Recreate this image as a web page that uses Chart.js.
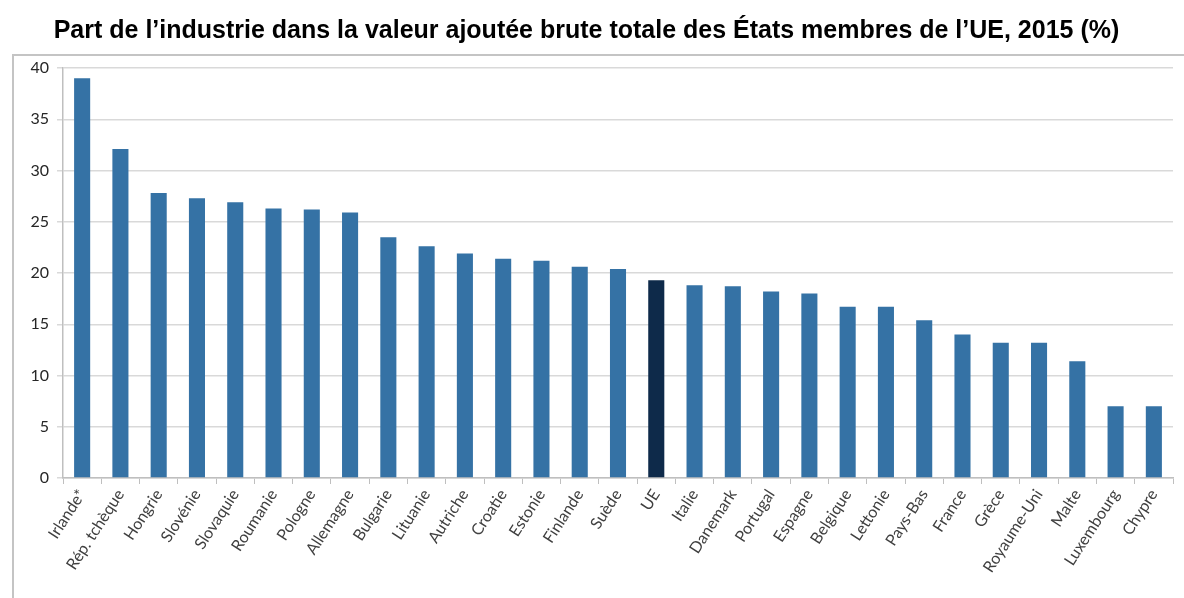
<!DOCTYPE html>
<html>
<head>
<meta charset="utf-8">
<script src="https://cdn.jsdelivr.net/npm/chart.js@4/dist/chart.umd.min.js"></script>
<style>
html,body{margin:0;padding:0;background:#fff;}
#wrap{width:1184px;height:598px;position:relative;}
</style>
</head>
<body>
<div id="wrap"><canvas id="c" width="1184" height="598"></canvas></div>
<script>
const categories = ["Irlande*","Rép. tchèque","Hongrie","Slovénie","Slovaquie","Roumanie","Pologne","Allemagne","Bulgarie","Lituanie","Autriche","Croatie","Estonie","Finlande","Suède","UE","Italie","Danemark","Portugal","Espagne","Belgique","Lettonie","Pays-Bas","France","Grèce","Royaume-Uni","Malte","Luxembourg","Chypre"];
const values = [39.0,32.1,27.8,27.3,26.9,26.3,26.2,25.9,23.5,22.6,21.9,21.4,21.2,20.6,20.4,19.3,18.8,18.7,18.2,18.0,16.7,16.7,15.4,14.0,13.2,13.2,11.4,7.0,7.0];
const highlight = "UE";
const yTicks = [0,5,10,15,20,25,30,35,40];
const title = "Part de l’industrie dans la valeur ajoutée brute totale des États membres de l’UE, 2015 (%)";

const barColor = "#3572A5";
const hiColor = "#0E2A4A";

const framePlugin = {
  id: 'frame',
  beforeDraw(chart){
    const ctx = chart.ctx;
    ctx.save();
    ctx.fillStyle = '#fff';
    ctx.fillRect(0,0,chart.width,chart.height);
    ctx.strokeStyle = '#C4C4C4';
    ctx.lineWidth = 2;
    ctx.beginPath();
    ctx.moveTo(13, chart.height);
    ctx.lineTo(13, 55);
    ctx.lineTo(chart.width, 55);
    ctx.stroke();
    ctx.restore();
  }
};

new Chart(document.getElementById('c'), {
  type: 'bar',
  data: {
    labels: categories,
    datasets: [{
      data: values,
      backgroundColor: categories.map(c => c === highlight ? hiColor : barColor),
      barPercentage: 0.42,
      categoryPercentage: 1.0
    }]
  },
  options: {
    responsive: false,
    animation: false,
    layout: { padding: { left: 0, right: 11, top: 0, bottom: 0 } },
    plugins: {
      legend: { display: false },
      tooltip: { enabled: false },
      title: {
        display: true,
        text: title,
        color: '#000',
        font: { family: "'Liberation Sans', Arial, sans-serif", size: 25, weight: 'bold' },
        padding: { top: 16, bottom: 22 }
      }
    },
    scales: {
      x: {
        grid: { display: true, drawOnChartArea: false, drawTicks: true, tickLength: 6, color: '#BFBFBF', offset: true },
        border: { display: true, color: '#BFBFBF', width: 1.5 },
        ticks: {
          color: '#404040',
          font: { family: "Lato, 'Open Sans', sans-serif", size: 16 },
          minRotation: 57, maxRotation: 57,
          autoSkip: false,
          padding: 2
        },
        afterFit(scale){ scale.height = 120; }
      },
      y: {
        min: 0, max: 40,
        afterBuildTicks(scale){ scale.ticks = yTicks.map(v => ({value: v})); },
        grid: { color: '#D9D9D9', lineWidth: 1.5, tickLength: 6, drawTicks: true },
        border: { display: true, color: '#BFBFBF', width: 1.5 },
        ticks: {
          color: '#262626',
          font: { family: "Lato, 'Open Sans', sans-serif", size: 16 },
          padding: 8
        },
        afterFit(scale){ scale.width = 63; }
      }
    }
  },
  plugins: [framePlugin]
});
</script>
</body>
</html>
